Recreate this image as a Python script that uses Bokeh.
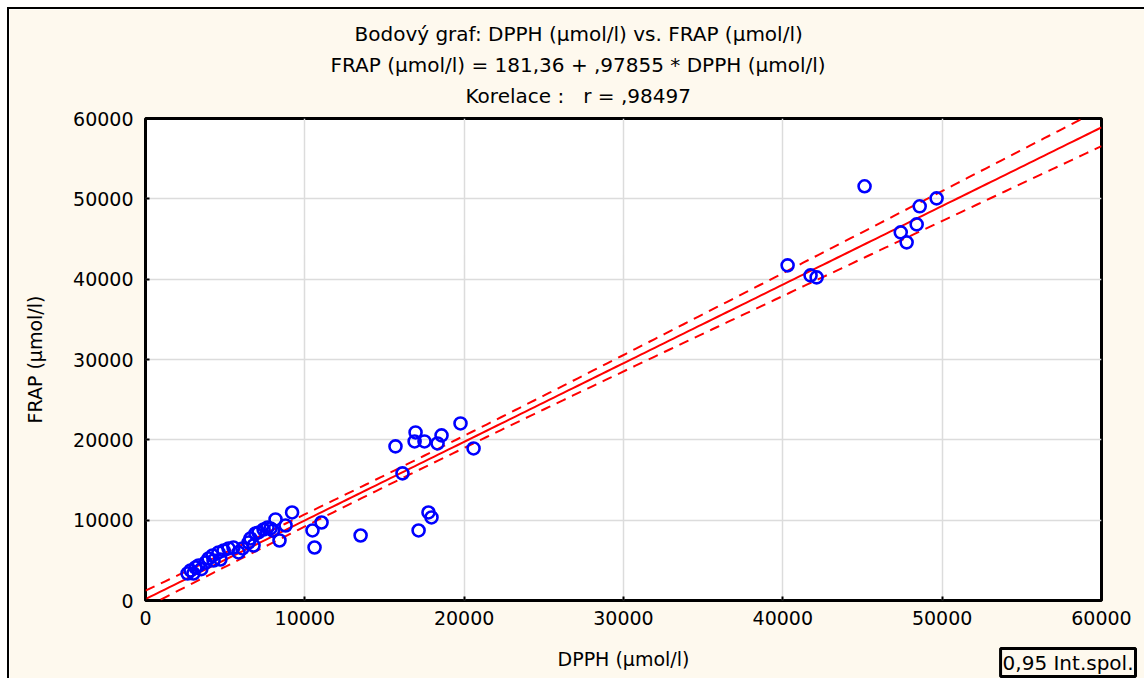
import numpy as np
from bokeh.plotting import figure
from bokeh.models import FixedTicker, Range1d, ColumnDataSource, Title
from bokeh.embed import file_html
from bokeh.resources import INLINE

# ---- data ----
dpph = [45130, 49650, 48590, 48400, 47400, 47770, 40300, 41740, 42120,
        19770, 16950, 18580, 16890, 17510, 18330, 15690, 20590, 16130,
        17760, 17950, 17140, 13500, 11050, 10480, 10610,
        9200, 8160, 8410, 7660, 7410, 7090, 6900, 6590, 6470, 6780,
        5520, 5210, 4900, 4580, 4210, 3960, 4270, 3330, 3140, 2830, 2640, 3010,
        6090, 5840, 3770, 7850, 8790, 8000, 4700, 3500]
frap = [51560, 50060, 49070, 46820, 45830, 44580, 41720, 40470, 40220,
        22040, 20920, 20550, 19800, 19800, 19550, 19180, 18930, 15820,
        10960, 10340, 8720, 8090, 9710, 8720, 6600,
        10960, 10090, 7470, 9090, 8840, 8470, 8340, 7720, 7220, 6850,
        6600, 6480, 6230, 5980, 5600, 5230, 4980, 4360, 4110, 3740, 3360, 3360,
        6480, 5980, 4730, 8970, 9340, 8700, 5100, 3900]

intercept = 181.36
slope = 0.97855
axis_ticks = [0, 10000, 20000, 30000, 40000, 50000, 60000]
title_lines = ["Bodový graf: DPPH (µmol/l) vs. FRAP (µmol/l)",
               "FRAP (µmol/l) = 181,36 + ,97855 * DPPH (µmol/l)",
               "Korelace :\u00a0\u00a0 r = ,98497"]
x_label = "DPPH (µmol/l)"
y_label = "FRAP (µmol/l)"
legend_text = "0,95 Int.spol."

# ---- regression line and confidence band for the mean ----
xa = np.array(dpph, float)
ya = np.array(frap, float)
n = len(xa)
resid = ya - (intercept + slope * xa)
s = np.sqrt(np.sum(resid ** 2) / (n - 2))
xm = xa.mean()
sxx = np.sum((xa - xm) ** 2)
tval = 1.99
xs = np.linspace(axis_ticks[0], axis_ticks[-1], 200)
yfit = intercept + slope * xs
half = tval * s * np.sqrt(1.0 / n + (xs - xm) ** 2 / sxx)

FONT = "DejaVu Sans"
BG = "#FEF9EE"

p = figure(width=1135, height=669, output_backend="svg", toolbar_location=None,
           x_range=Range1d(0, 60000), y_range=Range1d(0, 60000),
           min_border_left=136, min_border_right=43, min_border_top=109,
           min_border_bottom=78)
p.background_fill_color = "white"
p.border_fill_color = BG
p.outline_line_color = "black"
p.outline_line_width = 3
p.styles = {"margin-left": "9px", "margin-top": "9px", "outline": "2px solid black"}

for ax in (p.xaxis, p.yaxis):
    ax.ticker = FixedTicker(ticks=axis_ticks)
    ax.axis_line_color = None
    ax.major_tick_in = 4
    ax.major_tick_out = 0
    ax.major_tick_line_color = "black"
    ax.major_tick_line_width = 2
    ax.minor_tick_line_color = None
    ax.major_label_text_font = FONT
    ax.major_label_text_font_size = "19px"
    ax.major_label_text_color = "black"
    ax.axis_label_text_font = FONT
    ax.axis_label_text_font_size = "19px"
    ax.axis_label_text_font_style = "normal"
    ax.axis_label_text_color = "black"
p.xaxis.major_label_standoff = 10
p.yaxis.major_label_standoff = 12
p.xaxis.axis_label = x_label
p.yaxis.axis_label = y_label
p.xaxis.axis_label_standoff = 20
p.yaxis.axis_label_standoff = 24

p.grid.grid_line_color = "#DCDCDC"
p.grid.grid_line_width = 1.5

p.line(xs, yfit, line_color="#FF0000", line_width=2)
p.line(xs, yfit + half, line_color="#FF0000", line_width=2, line_dash="10 7")
p.line(xs, yfit - half, line_color="#FF0000", line_width=2, line_dash="10 7")

src = ColumnDataSource(dict(x=dpph, y=frap))
p.scatter("x", "y", source=src, marker="circle", size=12, fill_color=None,
          line_color="#0000FF", line_width=2.6)

# small spacer between frame and the title block
p.add_layout(Title(text="\u00a0", text_font_size="1px", standoff=5), "above")
# title lines: first added is nearest to the plot frame
title_offsets = [209, 185, 320]
for t, off in reversed(list(zip(title_lines, title_offsets))):
    p.add_layout(Title(text=t, align="left", offset=off, standoff=5,
                       text_font=FONT, text_font_size="20px",
                       text_font_style="normal", text_color="black"), "above")

# "0,95 Int.spol." box in the lower right corner
p.add_layout(Title(text=legend_text, align="right", offset=-34, standoff=-48,
                   vertical_align="top",
                   text_font=FONT, text_font_size="20px", text_font_style="normal",
                   text_color="black", border_line_color="black",
                   border_line_width=3, background_fill_color=BG, padding=2),
             "below")

open("out.html", "w").write(file_html(p, INLINE))
